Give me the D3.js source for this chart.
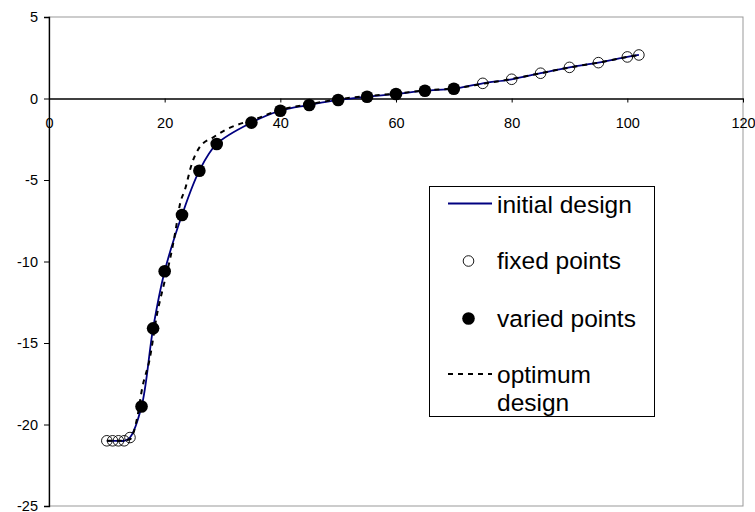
<!DOCTYPE html>
<html>
<head>
<meta charset="utf-8">
<script src="https://cdn.jsdelivr.net/npm/d3@7"></script>
<style>
  body { margin: 0; background: #fff; }
  svg { display: block; font-family: "Liberation Sans", Arial, sans-serif; }
</style>
</head>
<body>
<div id="chart"></div>
<script>
// fixed points (open circles)
const fixedX = [10, 11, 12, 13, 14, 75, 80, 85, 90, 95, 100, 102];
const fixedY = [-21, -21, -21, -21, -20.8, 0.93, 1.18, 1.55, 1.91, 2.2, 2.55, 2.67];

// varied points (filled circles)
const variedX = [16, 18, 20, 23, 26, 29, 35, 40, 45, 50, 55, 60, 65, 70];
const variedY = [-18.9, -14.1, -10.6, -7.15, -4.43, -2.79, -1.48, -0.75, -0.40, -0.09, 0.11, 0.28, 0.48, 0.60];

// optimum design (dashed)
const optX = [10, 12, 14, 15.3, 16.1, 17.4, 18.7, 19.8, 20.9, 21.8, 22.7, 23.5, 24.7, 26.1, 28.4, 30.7, 33, 35, 40, 45, 50, 55, 60, 65, 70, 75, 80, 85, 90, 95, 100, 102];
const optY = [-21, -21, -20.9, -19.5, -17.8, -16, -13.2, -11.5, -9.9, -8.27, -6.4, -5.6, -4.0, -2.96, -2.38, -1.89, -1.56, -1.35, -0.7, -0.35, -0.05, 0.15, 0.3, 0.5, 0.62, 0.9, 1.2, 1.55, 1.9, 2.2, 2.55, 2.67];

const xTicks = [0, 20, 40, 60, 80, 100, 120];
const yTicks = [5, 0, -5, -10, -15, -20, -25];

const legendLabels = ["initial design", "fixed points", "varied points", ["optimum", "design"]];

const width = 755, height = 512;
const plot = { left: 49, right: 743, top: 17, bottom: 506 };

const svg = d3.select("#chart").append("svg")
    .attr("width", width)
    .attr("height", height);

const x = d3.scaleLinear().domain([0, 120]).range([plot.left, plot.right]);
const y = d3.scaleLinear().domain([-25, 5]).range([plot.bottom, plot.top]);

// plot area border (gray)
svg.append("rect")
    .attr("x", plot.left)
    .attr("y", plot.top)
    .attr("width", plot.right - plot.left)
    .attr("height", plot.bottom - plot.top)
    .attr("fill", "none")
    .attr("stroke", "#999")
    .attr("stroke-width", 1);

// y axis
const yAxis = svg.append("g")
    .attr("transform", "translate(" + plot.left + ",0)")
    .call(d3.axisLeft(y).tickValues(yTicks).tickSize(5).tickPadding(6).tickFormat(d3.format("d")));
yAxis.select(".domain").attr("stroke", "#000").attr("stroke-width", 1.3);
yAxis.selectAll("text").style("font-size", "14.5px").attr("fill", "#000")
    .text(d => d < 0 ? "-" + Math.abs(d) : d);

// x axis at y = 0
const xAxis = svg.append("g")
    .attr("transform", "translate(0," + y(0) + ")")
    .call(d3.axisBottom(x).tickValues(xTicks).tickSize(4).tickPadding(15).tickSizeOuter(0));
xAxis.select(".domain").attr("stroke", "#000").attr("stroke-width", 1.3);
xAxis.selectAll("text").style("font-size", "14.5px").attr("fill", "#000");

// initial design line
const allPts = fixedX.map((d, i) => [d, fixedY[i]])
    .concat(variedX.map((d, i) => [d, variedY[i]]))
    .sort((a, b) => a[0] - b[0]);

const line = d3.line()
    .x(d => x(d[0]))
    .y(d => y(d[1]))
    .curve(d3.curveCatmullRom.alpha(0.5));

svg.append("path")
    .datum(allPts)
    .attr("d", line)
    .attr("fill", "none")
    .attr("stroke", "#000080")
    .attr("stroke-width", 1.8);

// optimum design line
const optPts = optX.map((d, i) => [d, optY[i]]);
svg.append("path")
    .datum(optPts)
    .attr("d", line.curve(d3.curveMonotoneX))
    .attr("fill", "none")
    .attr("stroke", "#000")
    .attr("stroke-width", 2)
    .attr("stroke-dasharray", "5,5");

// fixed points
svg.append("g").selectAll("circle")
    .data(fixedX)
    .enter().append("circle")
    .attr("cx", d => x(d))
    .attr("cy", (d, i) => y(fixedY[i]))
    .attr("r", 5.3)
    .attr("fill", "none")
    .attr("stroke", "#000")
    .attr("stroke-width", 0.9);

// varied points
svg.append("g").selectAll("circle")
    .data(variedX)
    .enter().append("circle")
    .attr("cx", d => x(d))
    .attr("cy", (d, i) => y(variedY[i]))
    .attr("r", 6.3)
    .attr("fill", "#000");

// legend
const legend = svg.append("g");
legend.append("rect")
    .attr("x", 429.5)
    .attr("y", 186.5)
    .attr("width", 225)
    .attr("height", 230)
    .attr("fill", "#fff")
    .attr("stroke", "#000")
    .attr("stroke-width", 1);

legend.append("line")
    .attr("x1", 448).attr("x2", 492)
    .attr("y1", 203.5).attr("y2", 203.5)
    .attr("stroke", "#000080").attr("stroke-width", 1.8);
legend.append("circle")
    .attr("cx", 468.5).attr("cy", 261)
    .attr("r", 5.3)
    .attr("fill", "none").attr("stroke", "#000").attr("stroke-width", 0.9);
legend.append("circle")
    .attr("cx", 468.5).attr("cy", 318.5)
    .attr("r", 6.3)
    .attr("fill", "#000");
legend.append("line")
    .attr("x1", 448).attr("x2", 492)
    .attr("y1", 374).attr("y2", 374)
    .attr("stroke", "#000").attr("stroke-width", 2)
    .attr("stroke-dasharray", "5,5");

const textY = [213, 269, 327];
legendLabels.slice(0, 3).forEach((t, i) => {
    legend.append("text")
        .attr("x", 497)
        .attr("y", textY[i])
        .style("font-size", "24.5px")
        .text(t);
});
legend.append("text")
    .attr("x", 497)
    .attr("y", 383)
    .style("font-size", "24.5px")
    .text(legendLabels[3][0]);
legend.append("text")
    .attr("x", 497)
    .attr("y", 411)
    .style("font-size", "24.5px")
    .text(legendLabels[3][1]);
</script>
</body>
</html>
